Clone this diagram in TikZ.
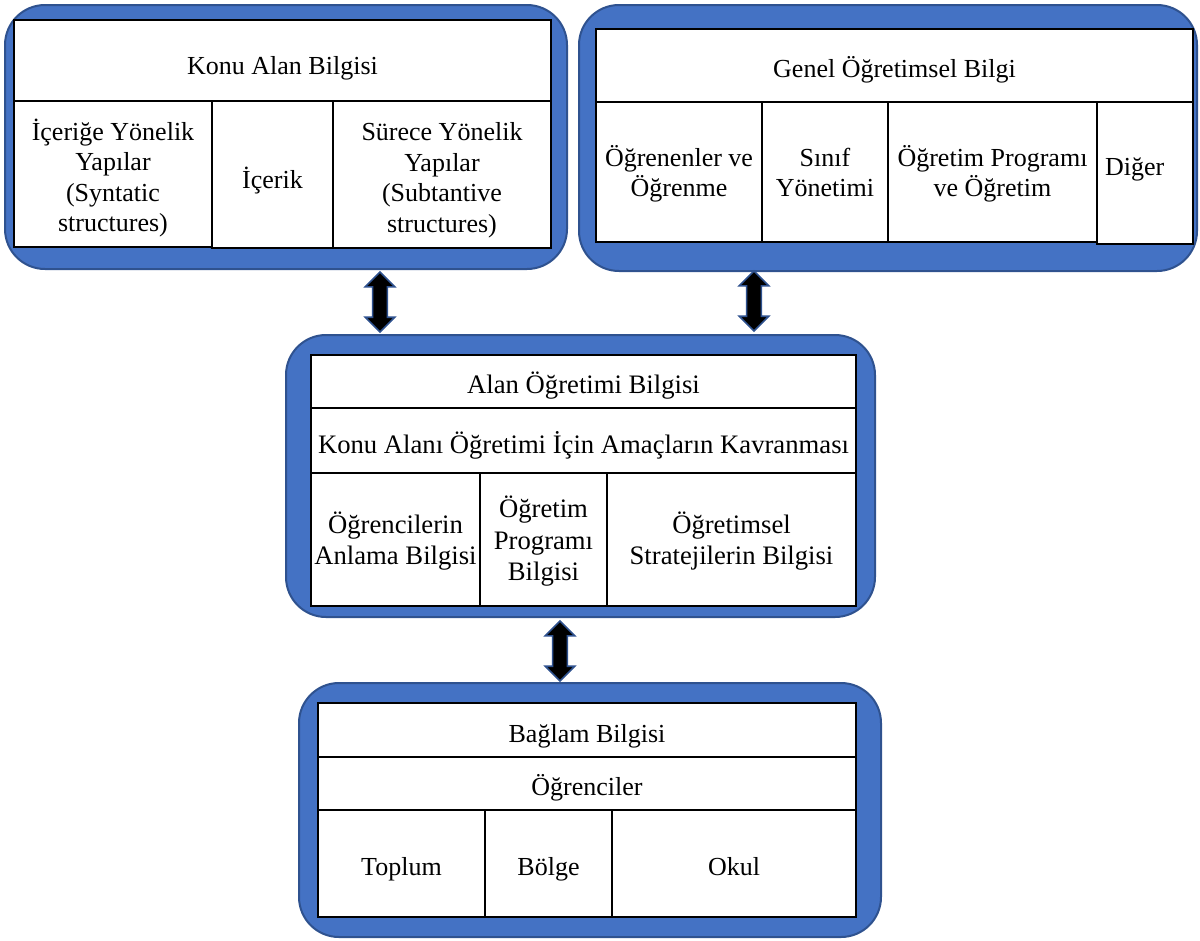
\documentclass[tikz,border=0pt]{standalone}
\usepackage{fontspec}
\setmainfont{Liberation Serif}
\usetikzlibrary{shapes.arrows}
\definecolor{panelfill}{HTML}{4472C4}
\definecolor{paneledge}{HTML}{2F528F}

% invisible struts: one fixes the first line's height, the other the last line's depth
\newcommand{\topstrut}{\leavevmode\vrule width 0pt height \sth depth 0pt\relax}
\newcommand{\botstrut}{\vrule width 0pt height 0pt depth \std\relax}
\def\sth{0pt}\def\std{0pt}
% table cell given by its corners (x1,y1) and (x2,y2)
\newcommand{\gridcell}[7][]{%
  \node[cell, #1, minimum width={(#5-#3)*0.75pt}, minimum height={(#6-#4)*0.75pt}]
    (#2) at ({(#3+#5)/2},{(#4+#6)/2}) {\topstrut#7\botstrut};}
% rounded blue frame behind a table
\newcommand{\framepanel}[5]{%
  \node[panel, minimum width={(#4-#2)*0.75pt}, minimum height={(#5-#3)*0.75pt}]
    (#1) at ({(#2+#4)/2},{(#3+#5)/2}) {};}

\begin{document}
\begin{tikzpicture}[x=0.75pt,y=-0.75pt,
  panel/.style={draw=paneledge, fill=panelfill, line width=1.5pt, rounded corners=30pt, inner sep=0pt},
  cell/.style={draw=black, fill=white, line width=1.5pt, inner sep=0pt, align=center},
  txt/.style n args={4}{font=\fontsize{#1}{#2}\selectfont,
    /utils/exec={\def\sth{#3}\def\std{#4}}},
  kab/.style={txt={19.5pt}{22.8pt}{24.8pt}{4.5pt}},
  kabm/.style={txt={19.5pt}{22.8pt}{22.6pt}{4.5pt}},
  gobh/.style={txt={19.5pt}{22.8pt}{23.2pt}{4.5pt}},
  gob/.style={txt={19.5pt}{22.8pt}{18.8pt}{4.5pt}},
  aob/.style={txt={20pt}{23.8pt}{21.8pt}{4.5pt}},
  aobm/.style={txt={20pt}{23.8pt}{18.8pt}{4.5pt}},
  aobw/.style={txt={20pt}{23.8pt}{24pt}{4.5pt}},
  bb/.style={txt={19.5pt}{23.5pt}{22.5pt}{4.5pt}},
  link/.style={shape=double arrow, fill=black, draw=paneledge, line width=1.2pt, rotate=90,
    inner xsep=0pt, inner ysep=4.9pt, double arrow head extend=5.6pt,
    minimum height=45pt, minimum width=0pt}
]
\useasboundingbox (0,0) rectangle (1200,940);

% frames
\framepanel{p1}{5}{5}{567}{269}
\framepanel{p2}{579}{5}{1197}{271}
\framepanel{p3}{286}{335}{875}{617}
\framepanel{p4}{299}{683}{881}{937}

% Konu Alan Bilgisi
\gridcell[kab]{k0}{14}{20}{551}{101}{Konu Alan Bilgisi}
\gridcell[kabm]{k1}{14}{101}{212}{247}{İçeriğe Yönelik\\Yapılar\\(Syntatic\\structures)}
\gridcell[kab]{k2}{212}{101}{333}{248}{İçerik}
\gridcell[kabm]{k3}{333}{101}{551}{248}{Sürece Yönelik\\Yapılar\\(Subtantive\\structures)}

% Genel Öğretimsel Bilgi
\gridcell[gobh]{g0}{596}{29}{1193}{102}{Genel Öğretimsel Bilgi}
\gridcell[gob]{g1}{596}{102}{762}{242}{Öğrenenler ve\\Öğrenme}
\gridcell[gob]{g2}{762}{102}{888}{242}{Sınıf\\Yönetimi}
\gridcell[gob]{g3}{888}{102}{1097}{242}{Öğretim Programı\\ve Öğretim}
\node[cell, txt={19.5pt}{22.8pt}{17.5pt}{13.2pt}, align=left, inner xsep=6pt, text width=60pt,
  minimum width=72pt, minimum height={142*0.75pt}] (g4) at (1145,173) {\topstrut Diğer\botstrut};

% Alan Öğretimi Bilgisi
\gridcell[aob]{a0}{311}{355}{856}{408}{Alan Öğretimi Bilgisi}
\gridcell[aobw]{a1}{311}{408}{856}{473}{Konu Alanı Öğretimi İçin Amaçların Kavranması}
\gridcell[aobm]{a2}{311}{473}{480}{606}{Öğrencilerin\\Anlama Bilgisi}
\gridcell[aobm]{a3}{480}{473}{607}{606}{Öğretim\\Programı\\Bilgisi}
\gridcell[aobm]{a4}{607}{473}{856}{606}{Öğretimsel\\Stratejilerin Bilgisi}

% Bağlam Bilgisi
\gridcell[bb]{b0}{318}{703}{856}{757}{Bağlam Bilgisi}
\gridcell[bb]{b1}{318}{757}{856}{810}{Öğrenciler}
\gridcell[bb]{b2}{318}{810}{485}{917}{Toplum}
\gridcell[bb]{b3}{485}{810}{612}{917}{Bölge}
\gridcell[bb]{b4}{612}{810}{856}{917}{Okul}

% two-way links between the frames
\node[link] (l1) at (380,302) {};
\node[link] (l2) at (754,301) {};
\node[link] (l3) at (560,651) {};
\end{tikzpicture}
\end{document}
